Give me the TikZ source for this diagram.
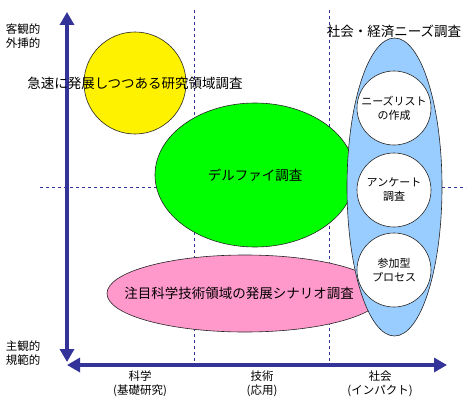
\documentclass[tikz,border=0pt]{standalone}
\usepackage{fontspec}
\newfontfamily\jpfont{Noto Sans CJK JP}
\usetikzlibrary{arrows.meta,shapes.geometric}
\definecolor{axisblue}{HTML}{333399}
\definecolor{pinkfill}{HTML}{FF99CC}
\definecolor{bluefill}{HTML}{99CCFF}
\begin{document}
\begin{tikzpicture}[x=1pt,y=-1pt,font=\jpfont\fontsize{13.5}{16}\selectfont,
  axis/.style={draw=axisblue,line width=4pt,{Triangle[length=13pt,width=14pt]}-{Triangle[length=13pt,width=14pt]}},
  guide/.style={draw=axisblue,line width=0.6pt,dash pattern=on 3pt off 3pt},
  blob/.style={draw=black!85,line width=0.6pt,inner sep=0pt},
  small/.style={font=\jpfont\fontsize{11.5}{14}\selectfont,align=center},
  disc/.style={blob,circle,fill=white,minimum size=74pt,align=center,font=\jpfont\fontsize{11}{14}\selectfont}]
  \useasboundingbox (0,0) rectangle (471,404);

  % 補助線
  \coordinate (g1t) at (194,10);  \coordinate (g1b) at (194,363);
  \coordinate (g2t) at (329,10);  \coordinate (g2b) at (329,363);
  \coordinate (hl) at (40,187);   \coordinate (hr) at (466,187);
  \draw[guide] (g1t) -- (g1b);
  \draw[guide] (g2t) -- (g2b);
  \draw[guide] (hl) -- (hr);

  % 軸
  \coordinate (ytop) at (67,12);  \coordinate (ybot) at (67,362);
  \coordinate (xl) at (67,365);   \coordinate (xr) at (447,365);
  \draw[axis] (ybot) -- (ytop);
  \draw[axis] (xl) -- (xr);

  % 調査の領域
  \node (fast) [blob,circle,fill=yellow,minimum size=102pt] at (135,83) {};
  \node (fasttext) at (fast) {急速に発展しつつある研究領域調査};
  \node (delphi) [blob,ellipse,fill=green,minimum width=200pt,minimum height=144pt] at (255,175) {デルファイ調査};
  \node (scenario) [blob,ellipse,fill=pinkfill,minimum width=276pt,minimum height=77pt] at (245,293.5) {};
  \node (scentext) at (239,293) {注目科学技術領域の発展シナリオ調査};
  \node (needs) [blob,ellipse,fill=bluefill,minimum width=95pt,minimum height=298pt] at (394.5,187) {};
  \node (needstext) at (394,31) {社会・経済ニーズ調査};

  % ニーズ調査の手法
  \node (list) [disc] at (394,108) {ニーズリスト\\の作成};
  \node (enquete) [disc] at (394,190) {アンケート\\調査};
  \node (process) [disc] at (394,270) {参加型\\プロセス};

  % 軸ラベル
  \node (objective) [small] at (23,36) {客観的\\外挿的};
  \node (subjective) [small] at (23,353) {主観的\\規範的};
  \node (sci) [small] at (140,384) {科学\\(基礎研究)};
  \node (tech) [small] at (262,384) {技術\\(応用)};
  \node (soc) [small] at (380,384) {社会\\(インパクト)};
\end{tikzpicture}
\end{document}
